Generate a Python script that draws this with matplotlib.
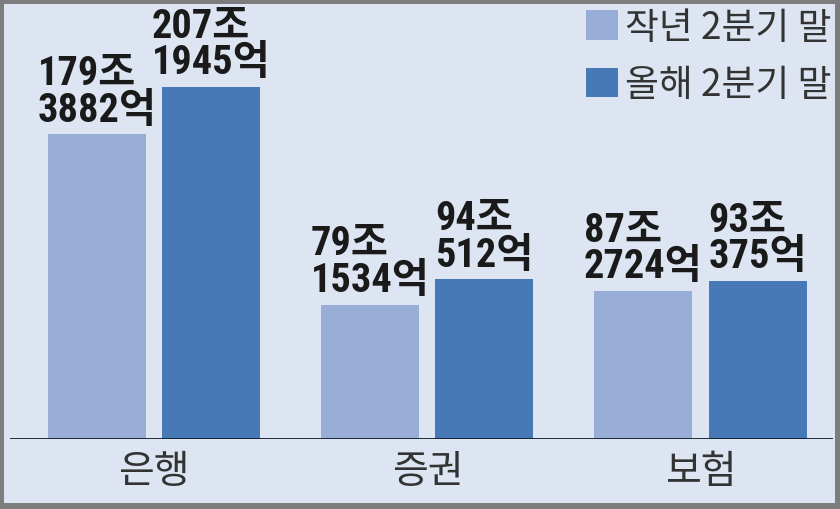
import numpy as np
import matplotlib
matplotlib.use('Agg')
import matplotlib.pyplot as plt
from matplotlib.patches import Rectangle

# data (조 단위, 억 -> 소수)
categories = ['은행', '증권', '보험']
series_names = ['작년 2분기 말', '올해 2분기 말']
last_year = [179.3882, 79.1534, 87.2724]
this_year = [207.1945, 94.0512, 93.0375]
last_labels = ['179조\n3882억', '79조\n1534억', '87조\n2724억']
this_labels = ['207조\n1945억', '94조\n512억', '93조\n375억']

kr = 'Noto Sans CJK KR'
plt.rcParams['font.family'] = [kr, 'DejaVu Sans']
num_fonts = ['Roboto Condensed', 'Liberation Sans', kr]

light = '#98aed6'
dark = '#4679b5'
bg = '#dce5f1'

fig = plt.figure(figsize=(8.4, 5.1), dpi=100, facecolor='#7d7d7d')
fig.patches.append(Rectangle((4 / 840, 6 / 510), 831 / 840, 499 / 510,
                             transform=fig.transFigure, facecolor=bg,
                             edgecolor='none', zorder=-5))

ax = fig.add_axes([10 / 840, 70 / 510, 823 / 840, 435 / 510])
ax.set_facecolor('none')
ax.set_zorder(2)

x = np.arange(len(categories))
w = 0.359
off = 0.209
b1 = ax.bar(x - off, last_year, w, color=light, label=series_names[0])
b2 = ax.bar(x + off, this_year, w, color=dark, label=series_names[1])

# value labels above bars
for rects, labels in [(b1, last_labels), (b2, this_labels)]:
    for r, lab in zip(rects, labels):
        ax.annotate(lab, (r.get_x() + r.get_width() / 2, r.get_height()),
                    xytext=(0, 4), textcoords='offset points',
                    ha='center', va='bottom', multialignment='left',
                    fontsize=29, fontweight='bold', color='#1a1a1a',
                    family=num_fonts, linespacing=0.95)

ax.set_xlim(-0.528, 2.485)
ax.set_ylim(0, 256)
for s in ax.spines.values():
    s.set_visible(False)
ax.axhline(0, color='#111a2a', lw=2, zorder=3)
ax.set_yticks([])
ax.set_xticks(x)
ax.set_xticklabels(categories, fontsize=28, color='#333333')
ax.tick_params(axis='x', length=0, pad=9)

leg = fig.legend(handles=[b1, b2], loc='upper right',
                 bbox_to_anchor=(835 / 840, 505 / 510), frameon=False,
                 fontsize=26.5, handlelength=0.85, handleheight=0.85,
                 handletextpad=0.2, labelspacing=0.5, borderpad=0.1,
                 borderaxespad=0, labelcolor='#333333')
leg.set_zorder(3)

fig.savefig('out.png', dpi=100, facecolor=fig.get_facecolor())
